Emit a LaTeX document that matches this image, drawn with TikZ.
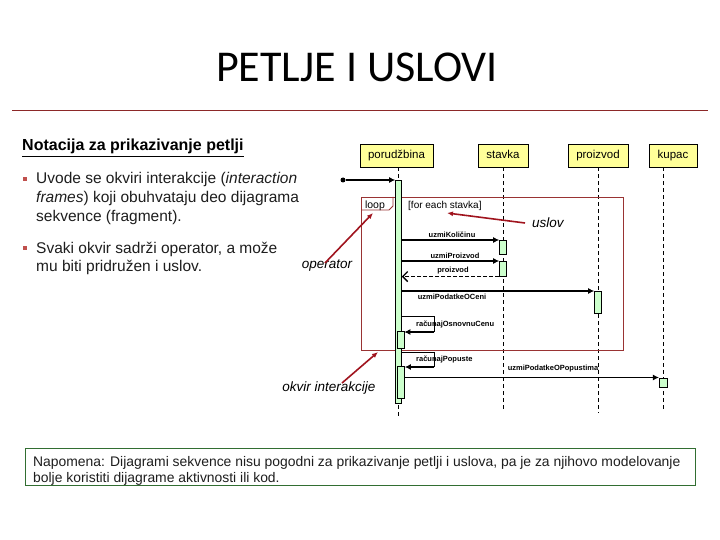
\documentclass[tikz,border=0pt]{standalone}
\usepackage{fontspec}
\setmainfont{Liberation Sans}
\newfontfamily\titlefont{Carlito}
\usetikzlibrary{arrows.meta}
\definecolor{hdrfill}{RGB}{255,255,153}
\definecolor{actfill}{RGB}{204,255,204}
\definecolor{framered}{RGB}{153,51,51}
\definecolor{annred}{RGB}{160,20,30}
\definecolor{rulered}{RGB}{140,40,40}
\definecolor{notegreen}{RGB}{50,110,50}
\definecolor{bulletred}{RGB}{192,80,77}
\definecolor{txtgray}{RGB}{30,30,30}
\begin{document}
\begin{tikzpicture}[x=1pt,y=-1pt,
 hdr/.style={draw=black, fill=hdrfill, line width=0.6pt, inner sep=0pt, minimum height=23pt, text height=8.5pt, text depth=2.5pt, font=\fontsize{11.5}{12}\selectfont},
 act/.style={draw=black, fill=actfill, line width=0.6pt, inner sep=0pt, minimum width=7pt, anchor=north},
 life/.style={line width=0.7pt, dash pattern=on 4pt off 3pt},
 msg/.style={line width=1.4pt, -{Latex[length=6pt,width=6pt]}},
 ret/.style={line width=1.3pt, dash pattern=on 4pt off 2pt, -{Straight Barb[length=5pt,width=10pt]}},
 selfm/.style={line width=0.8pt},
 mlab/.style={font=\fontsize{7.5}{8}\bfseries\selectfont, inner sep=0pt},
 ann/.style={annred, line width=1.6pt, -{Latex[length=6pt,width=5pt]}},
 annlab/.style={font=\fontsize{13.5}{14}\itshape\selectfont, inner sep=0pt},
 body/.style={font=\fontsize{15.5}{19}\selectfont, anchor=base west, inner sep=0pt, text=txtgray},
 notetxt/.style={font=\fontsize{13.9}{16}\selectfont, anchor=base west, inner sep=0pt, text=txtgray},
 bul/.style={fill=bulletred, minimum size=4.5pt, inner sep=0pt}
]
\useasboundingbox (0,0) rectangle (720,540);
\fill[white] (0,0) rectangle (720,540);

% title
\node[font=\titlefont\fontsize{44}{48}\selectfont, anchor=base, inner sep=0pt] (title) at (357,82) {PETLJE I USLOVI};
\coordinate (ruleL) at (12,110);
\coordinate (ruleR) at (708,110);
\draw[rulered, line width=0.8pt] (ruleL) -- (ruleR);

% left text
\node[anchor=base west, inner sep=0pt, font=\fontsize{16}{19}\bfseries\selectfont] (head) at (22,151) {\underline{Notacija za prikazivanje petlji}};
\node[bul] (b1) at (25,179) {};
\node[body] (t1) at (36,184) {Uvode se okviri interakcije (\textit{interaction}};
\node[body] (t2) at (36,203) {\textit{frames}) koji obuhvataju deo dijagrama};
\node[body] (t3) at (36,222) {sekvence (fragment).};
\node[bul] (b2) at (25,248) {};
\node[body] (t4) at (36,253) {Svaki okvir sadrži operator, a može};
\node[body] (t5) at (36,271) {mu biti pridružen i uslov.};

% headers
\node[hdr, minimum width=73pt] (por) at (396.5,155.5) {porudžbina};
\node[hdr, minimum width=50pt] (stv) at (503,155.5) {stavka};
\node[hdr, minimum width=60pt] (pro) at (598,155.5) {proizvod};
\node[hdr, minimum width=48pt] (kup) at (673,155.5) {kupac};

% lifelines
\coordinate (porE) at (398.5,416);
\coordinate (stvE) at (503,411);
\coordinate (proE) at (598,413);
\coordinate (kupE) at (663,411);
\draw[life] (por.south -| porE) -- (porE);
\draw[life] (stv.south) -- (stvE);
\draw[life] (pro.south) -- (proE);
\draw[life] (kup.south -| kupE) -- (kupE);

% frame
\node[draw=framered, line width=0.8pt, minimum width=262pt, minimum height=153pt, anchor=north west, inner sep=0pt] (frame) at (361,197) {};
\draw[framered, line width=0.8pt] (361,210) -- (389,210) -- (393,206) -- (393,197);
\node[font=\fontsize{10.5}{11}\selectfont, inner sep=0pt, anchor=base] (loop) at (375,208) {loop};
\node[font=\fontsize{10}{11}\selectfont, inner sep=0pt, anchor=base west] (cond) at (408,208) {[for each stavka]};

% activations
\node[act, minimum width=6pt, minimum height=223pt] (A0) at (398.5,180) {};
\node[act, minimum height=14pt] (S1) at (503,240) {};
\node[act, minimum height=15pt] (S2) at (503,261) {};
\node[act, minimum height=22pt] (P1) at (598,291) {};
\node[act, minimum height=17pt] (N1) at (400.5,331) {};
\node[act, minimum height=32pt] (N2) at (401,366) {};
\node[act, minimum width=8.5pt, minimum height=9pt] (K1) at (663.5,377.5) {};

% found message
\node[circle, fill=black, inner sep=0pt, minimum size=5pt] (start) at (343,180) {};
\draw[msg] (start) -- (A0.north west);

% messages
\draw[msg] (A0.east |- S1.north west) -- (S1.north west);
\node[mlab] (l1) at (452,235) {uzmiKoličinu};
\draw[msg] (A0.east |- S2.north west) -- (S2.north west);
\node[mlab] (l2) at (455,256) {uzmiProizvod};
\draw[ret] (S2.south west) -- (A0.east |- S2.south west);
\node[mlab] (l3) at (453,271) {proizvod};
\draw[msg] (A0.east |- P1.north west) -- (P1.north west);
\node[mlab] (l4) at (452,297) {uzmiPodatkeOCeni};

\coordinate (s1a) at (434,316);
\coordinate (s1b) at (434,332);
\draw[selfm] (A0.east |- s1a) -- (s1a) -- (s1b);
\draw[msg] (s1b) -- (N1.east |- s1b);
\node[mlab, anchor=west] (l5) at (416,324) {računajOsnovnuCenu};

\coordinate (s2a) at (434,352);
\coordinate (s2b) at (434,367);
\draw[selfm] (A0.east |- s2a) -- (s2a) -- (s2b);
\draw[msg] (s2b) -- (N2.east |- s2b);
\node[mlab, anchor=west] (l6) at (416,359) {računajPopuste};

\draw[msg] (N2.east |- K1.north west) -- (K1.north west);
\node[mlab] (l7) at (553,369) {uzmiPodatkeOPopustima};

% annotations
\node[annlab, anchor=west] (uslov) at (532,223) {uslov};
\coordinate (uslovT) at (447,213);
\draw[ann] ([xshift=-7pt]uslov.west) -- (uslovT);
\node[annlab] (oper) at (327,266) {operator};
\coordinate (operT) at (373,213);
\draw[ann] ([shift={(-2,-3)}]oper.center) -- (operT);
\node[annlab] (okvir) at (329,388) {okvir interakcije};
\coordinate (okvirT) at (378,352);
\draw[ann] ([shift={(13,-5)}]okvir.center) -- (okvirT);

% note
\node[draw=notegreen, line width=1pt, anchor=north west, minimum width=670pt, minimum height=37pt, inner sep=0pt] (note) at (25,448) {};
\node[notetxt] (n1) at (33,466) {Napomena: Dijagrami sekvence nisu pogodni za prikazivanje petlji i uslova, pa je za njihovo modelovanje};
\node[notetxt] (n2) at (33,482) {bolje koristiti dijagrame aktivnosti ili kod.};
\end{tikzpicture}
\end{document}
